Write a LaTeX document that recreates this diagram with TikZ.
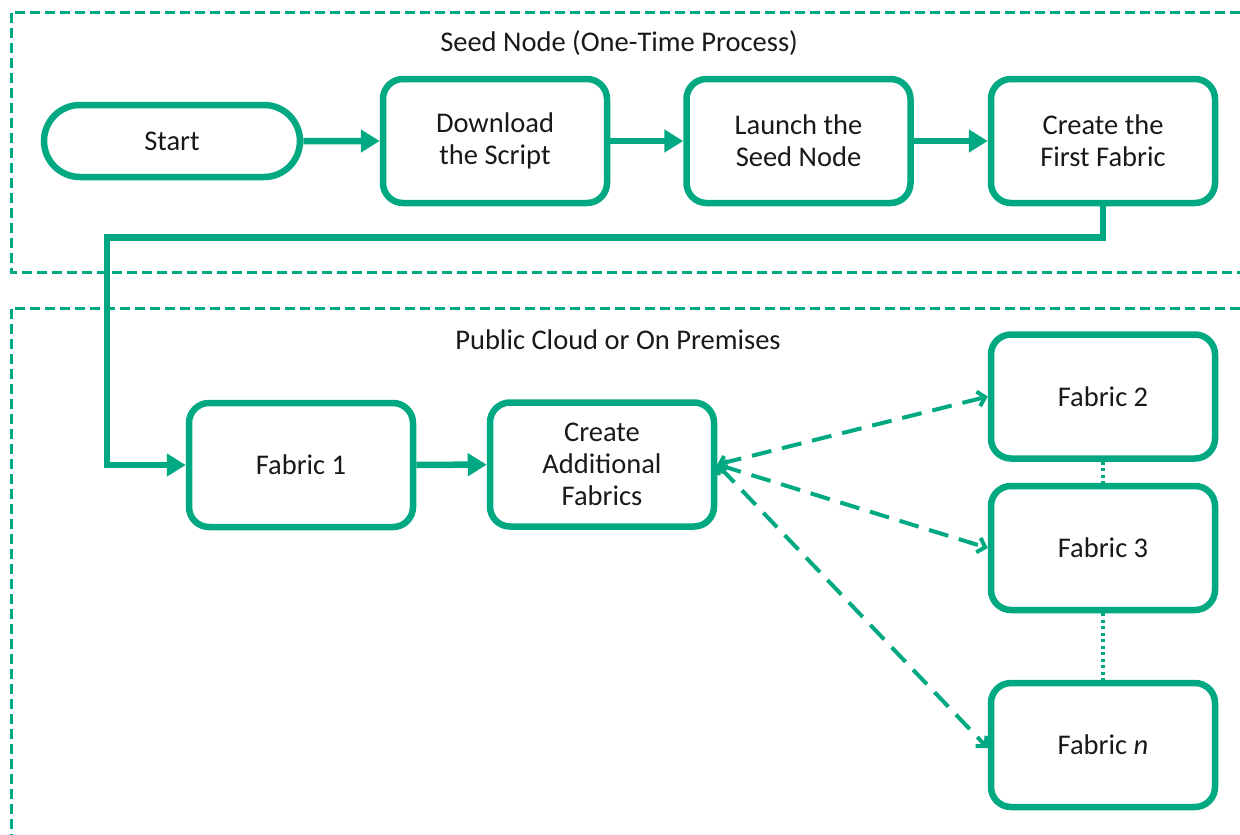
\documentclass[tikz,border=0pt]{standalone}
\usepackage{fontspec}
\setmainfont{Carlito}
\usetikzlibrary{arrows.meta,shapes.misc}
\definecolor{hpegreen}{RGB}{1,169,130}
\definecolor{ink}{RGB}{25,25,25}
\begin{document}
\begin{tikzpicture}[x=1pt,y=-1pt,
  font=\fontsize{28.5}{32}\selectfont, text=ink,
  box/.style={draw=hpegreen, line width=6.5pt, rounded corners=20pt,
    minimum width=224pt, minimum height=124pt, align=center, inner sep=0pt},
  startbox/.style={draw=hpegreen, line width=6.5pt, rounded rectangle,
    minimum width=256pt, minimum height=72pt, inner sep=0pt},
  flow/.style={draw=hpegreen, line width=6.5pt, miter limit=10,
    -{Triangle[length=19pt,width=22pt]}},
  dflow/.style={draw=hpegreen, line width=4pt, dash pattern=on 20pt off 11pt,
    {Straight Barb[length=6pt,width=13pt]}-{Straight Barb[length=7pt,width=15pt]}},
  dots/.style={draw=hpegreen, line width=3.5pt, dash pattern=on 3pt off 3.5pt},
  zone/.style={draw=hpegreen, line width=3pt, dash pattern=on 10pt off 5pt},
  title/.style={inner sep=0pt}
]
\useasboundingbox (0,0) rectangle (1240,835);
% zones
\draw[zone] (1240,12) -- (11,12) -- (11,272) -- (1240,272);
\draw[zone] (1240,308) -- (11,308) -- (11,835);
\node[title] (t1) at (619,43) {Seed Node (One-Time Process)};
\node[title] (t2) at (618,340) {Public Cloud or On Premises};
% nodes
\node[startbox] (start) at (172,141) {Start};
\node[box] (dl) at (495,141) {Download\\the Script};
\node[box] (ls) at (798.5,141) {Launch the\\Seed Node};
\node[box] (cf) at (1103,141) {Create the\\First Fabric};
\node[box] (f1) at (301,465) {Fabric 1};
\node[box] (ca) at (602,464.5) {Create\\Additional\\Fabrics};
\node[box] (f2) at (1103,396.5) {Fabric 2};
\node[box] (f3) at (1103,548) {Fabric 3};
\node[box] (fn) at (1103,745) {Fabric \textit{n}};
% connectors
\draw[flow] (start) -- (dl);
\draw[flow] (dl) -- (ls);
\draw[flow] (ls) -- (cf);
\coordinate (bend) at (107,237.5);
\draw[flow] (cf.south) |- (bend) |- (f1.west);
\draw[flow] (f1) -- (ca);
\draw[dflow] (ca.east) -- (f2.west);
\draw[dflow] (ca.east) -- (f3.west);
\draw[dflow] (ca.east) -- ([yshift=-3pt]fn.west);
\draw[dots] (f2.south) -- (f3.north);
\draw[dots] (f3.south) -- (fn.north);
\end{tikzpicture}
\end{document}
